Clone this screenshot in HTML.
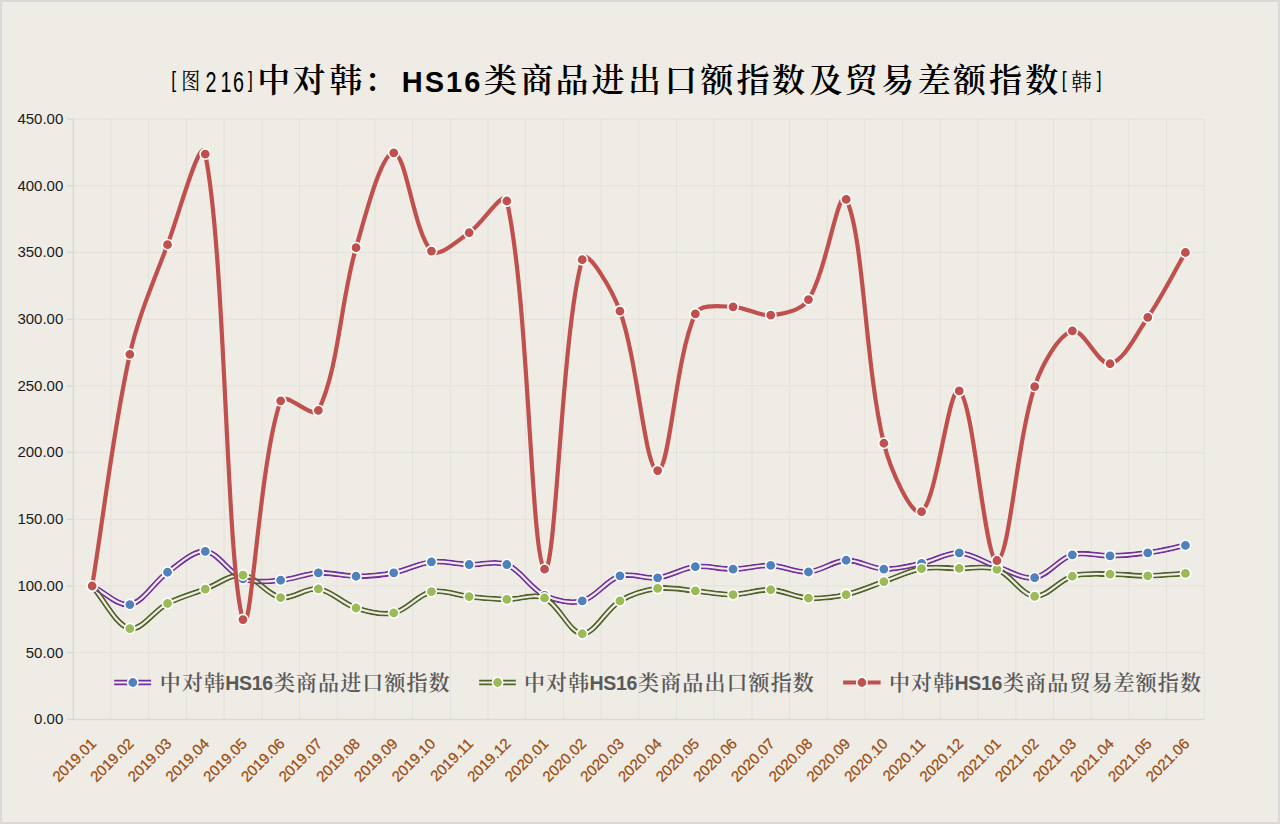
<!DOCTYPE html>
<html><head><meta charset="utf-8"><title>中对韩：HS16类商品进出口额指数及贸易差额指数</title>
<style>html,body{margin:0;padding:0;background:#efece5;}svg{display:block;}</style></head>
<body><svg width="1280" height="824" viewBox="0 0 1280 824"><rect x="0" y="0" width="1280" height="824" fill="#d9d9d9"/><rect x="2" y="2" width="1276" height="820" fill="#efece5"/><path d="M74.05,652.70H1204.30M74.05,586.00H1204.30M74.05,519.30H1204.30M74.05,452.60H1204.30M74.05,385.90H1204.30M74.05,319.20H1204.30M74.05,252.50H1204.30M74.05,185.80H1204.30M74.05,119.10H1204.30M111.00,119.10V718.65M148.70,119.10V718.65M186.40,119.10V718.65M224.10,119.10V718.65M261.80,119.10V718.65M299.50,119.10V718.65M337.20,119.10V718.65M374.90,119.10V718.65M412.60,119.10V718.65M450.30,119.10V718.65M488.00,119.10V718.65M525.70,119.10V718.65M563.40,119.10V718.65M601.10,119.10V718.65M638.80,119.10V718.65M676.50,119.10V718.65M714.20,119.10V718.65M751.90,119.10V718.65M789.60,119.10V718.65M827.30,119.10V718.65M865.00,119.10V718.65M902.70,119.10V718.65M940.40,119.10V718.65M978.10,119.10V718.65M1015.80,119.10V718.65M1053.50,119.10V718.65M1091.20,119.10V718.65M1128.90,119.10V718.65M1166.60,119.10V718.65M1204.30,119.10V718.65" stroke="#e3e1db" stroke-width="1" fill="none"/><path d="M73.30,119.10V719.40M67.00,719.40H1204.30M67.00,652.70H73.30M67.00,586.00H73.30M67.00,519.30H73.30M67.00,452.60H73.30M67.00,385.90H73.30M67.00,319.20H73.30M67.00,252.50H73.30M67.00,185.80H73.30M67.00,119.10H73.30" stroke="#d9d9d9" stroke-width="1.5" fill="none"/><g font-family="'Liberation Sans', sans-serif" font-size="15" fill="#1a1a1a" text-anchor="end"><text x="63.3" y="724.20">0.00</text><text x="63.3" y="657.50">50.00</text><text x="63.3" y="590.80">100.00</text><text x="63.3" y="524.10">150.00</text><text x="63.3" y="457.40">200.00</text><text x="63.3" y="390.70">250.00</text><text x="63.3" y="324.00">300.00</text><text x="63.3" y="257.30">350.00</text><text x="63.3" y="190.60">400.00</text><text x="63.3" y="123.90">450.00</text></g><g font-family="'Liberation Sans', sans-serif" font-size="15" fill="#9c4d12" stroke="#9c4d12" stroke-width="0.25" text-anchor="end"><text transform="translate(97.05,744.50) rotate(-45)">2019.01</text><text transform="translate(134.75,744.50) rotate(-45)">2019.02</text><text transform="translate(172.45,744.50) rotate(-45)">2019.03</text><text transform="translate(210.15,744.50) rotate(-45)">2019.04</text><text transform="translate(247.85,744.50) rotate(-45)">2019.05</text><text transform="translate(285.55,744.50) rotate(-45)">2019.06</text><text transform="translate(323.25,744.50) rotate(-45)">2019.07</text><text transform="translate(360.95,744.50) rotate(-45)">2019.08</text><text transform="translate(398.65,744.50) rotate(-45)">2019.09</text><text transform="translate(436.35,744.50) rotate(-45)">2019.10</text><text transform="translate(474.05,744.50) rotate(-45)">2019.11</text><text transform="translate(511.75,744.50) rotate(-45)">2019.12</text><text transform="translate(549.45,744.50) rotate(-45)">2020.01</text><text transform="translate(587.15,744.50) rotate(-45)">2020.02</text><text transform="translate(624.85,744.50) rotate(-45)">2020.03</text><text transform="translate(662.55,744.50) rotate(-45)">2020.04</text><text transform="translate(700.25,744.50) rotate(-45)">2020.05</text><text transform="translate(737.95,744.50) rotate(-45)">2020.06</text><text transform="translate(775.65,744.50) rotate(-45)">2020.07</text><text transform="translate(813.35,744.50) rotate(-45)">2020.08</text><text transform="translate(851.05,744.50) rotate(-45)">2020.09</text><text transform="translate(888.75,744.50) rotate(-45)">2020.10</text><text transform="translate(926.45,744.50) rotate(-45)">2020.11</text><text transform="translate(964.15,744.50) rotate(-45)">2020.12</text><text transform="translate(1001.85,744.50) rotate(-45)">2021.01</text><text transform="translate(1039.55,744.50) rotate(-45)">2021.02</text><text transform="translate(1077.25,744.50) rotate(-45)">2021.03</text><text transform="translate(1114.95,744.50) rotate(-45)">2021.04</text><text transform="translate(1152.65,744.50) rotate(-45)">2021.05</text><text transform="translate(1190.35,744.50) rotate(-45)">2021.06</text></g><mask id="m1" maskUnits="userSpaceOnUse" x="0" y="0" width="1280" height="824"><path d="M92.15,586.00 C104.72,592.18 118.33,606.64 129.85,604.54 C143.46,602.06 154.10,581.75 167.55,572.26 C179.24,564.01 193.18,550.27 205.25,551.32 C218.31,552.45 229.05,573.46 242.95,578.80 C254.19,583.11 268.20,581.26 280.65,580.26 C293.33,579.25 305.69,573.47 318.35,572.79 C330.82,572.13 343.48,576.26 356.05,576.26 C368.62,576.26 381.41,575.15 393.75,572.79 C406.54,570.35 418.65,563.26 431.45,561.85 C443.78,560.50 456.57,564.08 469.15,564.52 C481.70,564.97 495.88,560.04 506.85,564.52 C521.02,570.31 530.45,588.53 544.55,595.34 C555.59,600.67 570.76,603.91 582.25,600.94 C595.90,597.42 606.24,580.06 619.95,575.86 C631.38,572.36 645.34,579.37 657.65,577.86 C670.47,576.30 682.53,568.13 695.35,566.66 C707.66,565.24 720.50,569.39 733.05,569.19 C745.63,568.99 758.25,564.99 770.75,565.46 C783.38,565.93 796.08,572.85 808.45,571.99 C821.21,571.11 833.46,560.75 846.15,560.25 C858.59,559.77 871.19,568.54 883.85,569.06 C896.32,569.57 909.14,565.98 921.55,563.32 C934.28,560.60 946.84,552.37 959.25,552.92 C971.98,553.48 984.25,562.48 996.95,566.66 C1009.38,570.75 1022.81,579.59 1034.65,577.73 C1047.95,575.64 1058.80,558.72 1072.35,554.78 C1083.93,551.42 1097.50,556.18 1110.05,555.85 C1122.63,555.52 1135.28,554.50 1147.75,552.78 C1160.41,551.04 1172.88,547.89 1185.45,545.45" fill="none" stroke="#fff" stroke-width="5.8" stroke-linejoin="round"/><path d="M92.15,586.00 C104.72,592.18 118.33,606.64 129.85,604.54 C143.46,602.06 154.10,581.75 167.55,572.26 C179.24,564.01 193.18,550.27 205.25,551.32 C218.31,552.45 229.05,573.46 242.95,578.80 C254.19,583.11 268.20,581.26 280.65,580.26 C293.33,579.25 305.69,573.47 318.35,572.79 C330.82,572.13 343.48,576.26 356.05,576.26 C368.62,576.26 381.41,575.15 393.75,572.79 C406.54,570.35 418.65,563.26 431.45,561.85 C443.78,560.50 456.57,564.08 469.15,564.52 C481.70,564.97 495.88,560.04 506.85,564.52 C521.02,570.31 530.45,588.53 544.55,595.34 C555.59,600.67 570.76,603.91 582.25,600.94 C595.90,597.42 606.24,580.06 619.95,575.86 C631.38,572.36 645.34,579.37 657.65,577.86 C670.47,576.30 682.53,568.13 695.35,566.66 C707.66,565.24 720.50,569.39 733.05,569.19 C745.63,568.99 758.25,564.99 770.75,565.46 C783.38,565.93 796.08,572.85 808.45,571.99 C821.21,571.11 833.46,560.75 846.15,560.25 C858.59,559.77 871.19,568.54 883.85,569.06 C896.32,569.57 909.14,565.98 921.55,563.32 C934.28,560.60 946.84,552.37 959.25,552.92 C971.98,553.48 984.25,562.48 996.95,566.66 C1009.38,570.75 1022.81,579.59 1034.65,577.73 C1047.95,575.64 1058.80,558.72 1072.35,554.78 C1083.93,551.42 1097.50,556.18 1110.05,555.85 C1122.63,555.52 1135.28,554.50 1147.75,552.78 C1160.41,551.04 1172.88,547.89 1185.45,545.45" fill="none" stroke="#000" stroke-width="2.2" stroke-linejoin="round"/></mask><path d="M92.15,586.00 C104.72,592.18 118.33,606.64 129.85,604.54 C143.46,602.06 154.10,581.75 167.55,572.26 C179.24,564.01 193.18,550.27 205.25,551.32 C218.31,552.45 229.05,573.46 242.95,578.80 C254.19,583.11 268.20,581.26 280.65,580.26 C293.33,579.25 305.69,573.47 318.35,572.79 C330.82,572.13 343.48,576.26 356.05,576.26 C368.62,576.26 381.41,575.15 393.75,572.79 C406.54,570.35 418.65,563.26 431.45,561.85 C443.78,560.50 456.57,564.08 469.15,564.52 C481.70,564.97 495.88,560.04 506.85,564.52 C521.02,570.31 530.45,588.53 544.55,595.34 C555.59,600.67 570.76,603.91 582.25,600.94 C595.90,597.42 606.24,580.06 619.95,575.86 C631.38,572.36 645.34,579.37 657.65,577.86 C670.47,576.30 682.53,568.13 695.35,566.66 C707.66,565.24 720.50,569.39 733.05,569.19 C745.63,568.99 758.25,564.99 770.75,565.46 C783.38,565.93 796.08,572.85 808.45,571.99 C821.21,571.11 833.46,560.75 846.15,560.25 C858.59,559.77 871.19,568.54 883.85,569.06 C896.32,569.57 909.14,565.98 921.55,563.32 C934.28,560.60 946.84,552.37 959.25,552.92 C971.98,553.48 984.25,562.48 996.95,566.66 C1009.38,570.75 1022.81,579.59 1034.65,577.73 C1047.95,575.64 1058.80,558.72 1072.35,554.78 C1083.93,551.42 1097.50,556.18 1110.05,555.85 C1122.63,555.52 1135.28,554.50 1147.75,552.78 C1160.41,551.04 1172.88,547.89 1185.45,545.45" fill="none" stroke="#7030a0" stroke-width="5.8" stroke-linejoin="round" mask="url(#m1)"/><g fill="#4f81bd" stroke="#fff" stroke-width="1.6"><circle cx="92.15" cy="586.00" r="5.2"/><circle cx="129.85" cy="604.54" r="5.2"/><circle cx="167.55" cy="572.26" r="5.2"/><circle cx="205.25" cy="551.32" r="5.2"/><circle cx="242.95" cy="578.80" r="5.2"/><circle cx="280.65" cy="580.26" r="5.2"/><circle cx="318.35" cy="572.79" r="5.2"/><circle cx="356.05" cy="576.26" r="5.2"/><circle cx="393.75" cy="572.79" r="5.2"/><circle cx="431.45" cy="561.85" r="5.2"/><circle cx="469.15" cy="564.52" r="5.2"/><circle cx="506.85" cy="564.52" r="5.2"/><circle cx="544.55" cy="595.34" r="5.2"/><circle cx="582.25" cy="600.94" r="5.2"/><circle cx="619.95" cy="575.86" r="5.2"/><circle cx="657.65" cy="577.86" r="5.2"/><circle cx="695.35" cy="566.66" r="5.2"/><circle cx="733.05" cy="569.19" r="5.2"/><circle cx="770.75" cy="565.46" r="5.2"/><circle cx="808.45" cy="571.99" r="5.2"/><circle cx="846.15" cy="560.25" r="5.2"/><circle cx="883.85" cy="569.06" r="5.2"/><circle cx="921.55" cy="563.32" r="5.2"/><circle cx="959.25" cy="552.92" r="5.2"/><circle cx="996.95" cy="566.66" r="5.2"/><circle cx="1034.65" cy="577.73" r="5.2"/><circle cx="1072.35" cy="554.78" r="5.2"/><circle cx="1110.05" cy="555.85" r="5.2"/><circle cx="1147.75" cy="552.78" r="5.2"/><circle cx="1185.45" cy="545.45" r="5.2"/></g><mask id="m2" maskUnits="userSpaceOnUse" x="0" y="0" width="1280" height="824"><path d="M92.15,586.00 C104.72,600.18 115.86,625.31 129.85,628.55 C140.99,631.14 154.26,610.43 167.55,603.48 C179.39,597.27 192.66,593.81 205.25,589.07 C217.79,584.34 230.94,573.70 242.95,575.06 C256.07,576.55 267.29,595.17 280.65,597.61 C292.42,599.75 306.34,587.14 318.35,588.80 C331.47,590.61 342.81,603.77 356.05,608.01 C367.95,611.82 382.00,615.50 393.75,612.95 C407.14,610.03 418.06,594.52 431.45,591.60 C443.20,589.05 456.55,595.25 469.15,596.54 C481.68,597.82 494.27,599.10 506.85,599.34 C519.40,599.58 533.98,593.18 544.55,598.01 C559.11,604.65 569.44,633.26 582.25,633.76 C594.57,634.24 605.95,609.36 619.95,600.94 C631.08,594.25 644.77,590.13 657.65,588.40 C669.90,586.75 682.80,589.76 695.35,590.80 C707.94,591.85 720.50,594.85 733.05,594.67 C745.64,594.49 758.28,589.16 770.75,589.74 C783.42,590.32 795.76,597.33 808.45,598.14 C820.89,598.93 833.90,597.22 846.15,594.54 C859.04,591.71 871.28,585.91 883.85,581.60 C896.42,577.28 908.63,570.92 921.55,568.66 C933.77,566.52 946.69,568.28 959.25,568.39 C971.82,568.50 985.67,565.16 996.95,569.33 C1010.81,574.45 1021.57,595.07 1034.65,596.27 C1046.70,597.38 1059.01,580.18 1072.35,576.26 C1084.15,572.80 1097.48,574.19 1110.05,574.13 C1122.61,574.06 1135.19,575.97 1147.75,575.86 C1160.32,575.75 1172.88,574.26 1185.45,573.46" fill="none" stroke="#fff" stroke-width="5.8" stroke-linejoin="round"/><path d="M92.15,586.00 C104.72,600.18 115.86,625.31 129.85,628.55 C140.99,631.14 154.26,610.43 167.55,603.48 C179.39,597.27 192.66,593.81 205.25,589.07 C217.79,584.34 230.94,573.70 242.95,575.06 C256.07,576.55 267.29,595.17 280.65,597.61 C292.42,599.75 306.34,587.14 318.35,588.80 C331.47,590.61 342.81,603.77 356.05,608.01 C367.95,611.82 382.00,615.50 393.75,612.95 C407.14,610.03 418.06,594.52 431.45,591.60 C443.20,589.05 456.55,595.25 469.15,596.54 C481.68,597.82 494.27,599.10 506.85,599.34 C519.40,599.58 533.98,593.18 544.55,598.01 C559.11,604.65 569.44,633.26 582.25,633.76 C594.57,634.24 605.95,609.36 619.95,600.94 C631.08,594.25 644.77,590.13 657.65,588.40 C669.90,586.75 682.80,589.76 695.35,590.80 C707.94,591.85 720.50,594.85 733.05,594.67 C745.64,594.49 758.28,589.16 770.75,589.74 C783.42,590.32 795.76,597.33 808.45,598.14 C820.89,598.93 833.90,597.22 846.15,594.54 C859.04,591.71 871.28,585.91 883.85,581.60 C896.42,577.28 908.63,570.92 921.55,568.66 C933.77,566.52 946.69,568.28 959.25,568.39 C971.82,568.50 985.67,565.16 996.95,569.33 C1010.81,574.45 1021.57,595.07 1034.65,596.27 C1046.70,597.38 1059.01,580.18 1072.35,576.26 C1084.15,572.80 1097.48,574.19 1110.05,574.13 C1122.61,574.06 1135.19,575.97 1147.75,575.86 C1160.32,575.75 1172.88,574.26 1185.45,573.46" fill="none" stroke="#000" stroke-width="2.2" stroke-linejoin="round"/></mask><path d="M92.15,586.00 C104.72,600.18 115.86,625.31 129.85,628.55 C140.99,631.14 154.26,610.43 167.55,603.48 C179.39,597.27 192.66,593.81 205.25,589.07 C217.79,584.34 230.94,573.70 242.95,575.06 C256.07,576.55 267.29,595.17 280.65,597.61 C292.42,599.75 306.34,587.14 318.35,588.80 C331.47,590.61 342.81,603.77 356.05,608.01 C367.95,611.82 382.00,615.50 393.75,612.95 C407.14,610.03 418.06,594.52 431.45,591.60 C443.20,589.05 456.55,595.25 469.15,596.54 C481.68,597.82 494.27,599.10 506.85,599.34 C519.40,599.58 533.98,593.18 544.55,598.01 C559.11,604.65 569.44,633.26 582.25,633.76 C594.57,634.24 605.95,609.36 619.95,600.94 C631.08,594.25 644.77,590.13 657.65,588.40 C669.90,586.75 682.80,589.76 695.35,590.80 C707.94,591.85 720.50,594.85 733.05,594.67 C745.64,594.49 758.28,589.16 770.75,589.74 C783.42,590.32 795.76,597.33 808.45,598.14 C820.89,598.93 833.90,597.22 846.15,594.54 C859.04,591.71 871.28,585.91 883.85,581.60 C896.42,577.28 908.63,570.92 921.55,568.66 C933.77,566.52 946.69,568.28 959.25,568.39 C971.82,568.50 985.67,565.16 996.95,569.33 C1010.81,574.45 1021.57,595.07 1034.65,596.27 C1046.70,597.38 1059.01,580.18 1072.35,576.26 C1084.15,572.80 1097.48,574.19 1110.05,574.13 C1122.61,574.06 1135.19,575.97 1147.75,575.86 C1160.32,575.75 1172.88,574.26 1185.45,573.46" fill="none" stroke="#4f6228" stroke-width="5.8" stroke-linejoin="round" mask="url(#m2)"/><g fill="#9bbb59" stroke="#fff" stroke-width="1.6"><circle cx="92.15" cy="586.00" r="5.2"/><circle cx="129.85" cy="628.55" r="5.2"/><circle cx="167.55" cy="603.48" r="5.2"/><circle cx="205.25" cy="589.07" r="5.2"/><circle cx="242.95" cy="575.06" r="5.2"/><circle cx="280.65" cy="597.61" r="5.2"/><circle cx="318.35" cy="588.80" r="5.2"/><circle cx="356.05" cy="608.01" r="5.2"/><circle cx="393.75" cy="612.95" r="5.2"/><circle cx="431.45" cy="591.60" r="5.2"/><circle cx="469.15" cy="596.54" r="5.2"/><circle cx="506.85" cy="599.34" r="5.2"/><circle cx="544.55" cy="598.01" r="5.2"/><circle cx="582.25" cy="633.76" r="5.2"/><circle cx="619.95" cy="600.94" r="5.2"/><circle cx="657.65" cy="588.40" r="5.2"/><circle cx="695.35" cy="590.80" r="5.2"/><circle cx="733.05" cy="594.67" r="5.2"/><circle cx="770.75" cy="589.74" r="5.2"/><circle cx="808.45" cy="598.14" r="5.2"/><circle cx="846.15" cy="594.54" r="5.2"/><circle cx="883.85" cy="581.60" r="5.2"/><circle cx="921.55" cy="568.66" r="5.2"/><circle cx="959.25" cy="568.39" r="5.2"/><circle cx="996.95" cy="569.33" r="5.2"/><circle cx="1034.65" cy="596.27" r="5.2"/><circle cx="1072.35" cy="576.26" r="5.2"/><circle cx="1110.05" cy="574.13" r="5.2"/><circle cx="1147.75" cy="575.86" r="5.2"/><circle cx="1185.45" cy="573.46" r="5.2"/></g><path d="M92.15,586.00 C104.72,508.76 113.03,430.45 129.85,354.28 C138.16,316.66 153.94,280.78 167.55,244.63 C179.07,214.04 200.89,132.35 205.25,154.05 C226.02,257.35 225.91,563.86 242.95,619.62 C251.05,646.12 259.26,460.17 280.65,400.84 C284.40,390.44 313.60,420.09 318.35,410.45 C338.74,369.04 340.45,301.00 356.05,247.70 C365.58,215.13 381.37,152.30 393.75,152.85 C406.51,153.41 413.48,231.98 431.45,251.03 C438.61,258.62 457.60,240.42 469.15,232.76 C482.74,223.74 503.90,187.83 506.85,201.01 C529.03,299.97 530.91,558.57 544.55,569.19 C556.04,578.14 561.38,331.15 582.25,259.70 C586.51,245.10 612.92,291.39 619.95,311.06 C638.05,361.69 644.98,470.14 657.65,470.61 C670.11,471.07 675.05,357.97 695.35,313.86 C700.18,303.37 720.53,306.57 733.05,306.79 C745.66,307.02 758.53,316.37 770.75,315.20 C783.66,313.96 801.51,310.24 808.45,299.59 C826.65,271.65 838.55,184.92 846.15,199.41 C863.68,232.81 864.76,364.20 883.85,443.26 C889.89,468.30 911.95,518.35 921.55,511.70 C937.09,500.92 948.66,384.11 959.25,390.97 C973.79,400.39 984.54,561.25 996.95,560.52 C1009.67,559.78 1016.40,442.12 1034.65,386.57 C1041.54,365.59 1057.94,335.30 1072.35,330.94 C1083.07,327.70 1098.60,365.80 1110.05,363.76 C1123.73,361.31 1136.62,333.89 1147.75,317.47 C1161.75,296.80 1172.88,274.16 1185.45,252.50" fill="none" stroke="#c0504d" stroke-width="4.2" stroke-linejoin="round"/><g fill="#c0504d" stroke="#fff" stroke-width="1.6"><circle cx="92.15" cy="586.00" r="5.2"/><circle cx="129.85" cy="354.28" r="5.2"/><circle cx="167.55" cy="244.63" r="5.2"/><circle cx="205.25" cy="154.05" r="5.2"/><circle cx="242.95" cy="619.62" r="5.2"/><circle cx="280.65" cy="400.84" r="5.2"/><circle cx="318.35" cy="410.45" r="5.2"/><circle cx="356.05" cy="247.70" r="5.2"/><circle cx="393.75" cy="152.85" r="5.2"/><circle cx="431.45" cy="251.03" r="5.2"/><circle cx="469.15" cy="232.76" r="5.2"/><circle cx="506.85" cy="201.01" r="5.2"/><circle cx="544.55" cy="569.19" r="5.2"/><circle cx="582.25" cy="259.70" r="5.2"/><circle cx="619.95" cy="311.06" r="5.2"/><circle cx="657.65" cy="470.61" r="5.2"/><circle cx="695.35" cy="313.86" r="5.2"/><circle cx="733.05" cy="306.79" r="5.2"/><circle cx="770.75" cy="315.20" r="5.2"/><circle cx="808.45" cy="299.59" r="5.2"/><circle cx="846.15" cy="199.41" r="5.2"/><circle cx="883.85" cy="443.26" r="5.2"/><circle cx="921.55" cy="511.70" r="5.2"/><circle cx="959.25" cy="390.97" r="5.2"/><circle cx="996.95" cy="560.52" r="5.2"/><circle cx="1034.65" cy="386.57" r="5.2"/><circle cx="1072.35" cy="330.94" r="5.2"/><circle cx="1110.05" cy="363.76" r="5.2"/><circle cx="1147.75" cy="317.47" r="5.2"/><circle cx="1185.45" cy="252.50" r="5.2"/></g><mask id="mL1" maskUnits="userSpaceOnUse" x="0" y="0" width="1280" height="824"><path d="M114.1,682.5H151.3" fill="none" stroke="#fff" stroke-width="5.8" stroke-linejoin="round"/><path d="M114.1,682.5H151.3" fill="none" stroke="#000" stroke-width="2.2" stroke-linejoin="round"/></mask><path d="M114.1,682.5H151.3" fill="none" stroke="#7030a0" stroke-width="5.8" stroke-linejoin="round" mask="url(#mL1)"/><circle cx="132.8" cy="682.5" r="5.2" fill="#4f81bd" stroke="#fff" stroke-width="1.6"/><mask id="mL2" maskUnits="userSpaceOnUse" x="0" y="0" width="1280" height="824"><path d="M479.1,682.5H515.9" fill="none" stroke="#fff" stroke-width="5.8" stroke-linejoin="round"/><path d="M479.1,682.5H515.9" fill="none" stroke="#000" stroke-width="2.2" stroke-linejoin="round"/></mask><path d="M479.1,682.5H515.9" fill="none" stroke="#4f6228" stroke-width="5.8" stroke-linejoin="round" mask="url(#mL2)"/><circle cx="497.6" cy="682.5" r="5.2" fill="#9bbb59" stroke="#fff" stroke-width="1.6"/><path d="M843.1,682.5H880.6" stroke="#c0504d" stroke-width="4.2"/><circle cx="861.9" cy="682.5" r="5.2" fill="#c0504d" stroke="#fff" stroke-width="1.6"/><text x="159.8" y="689.8" font-family="'Liberation Serif', 'Noto Serif CJK SC', serif" font-size="21" font-weight="600" letter-spacing="1.1" fill="#595959">中对韩</text><text x="225.3" y="690" font-family="'Liberation Sans', sans-serif" font-weight="bold" font-size="19.5" letter-spacing="-0.3" fill="#595959">HS16</text><text x="273.9" y="689.8" font-family="'Liberation Serif', 'Noto Serif CJK SC', serif" font-size="21" font-weight="600" letter-spacing="1.1" fill="#595959">类商品进口额指数</text><text x="524.0" y="689.8" font-family="'Liberation Serif', 'Noto Serif CJK SC', serif" font-size="21" font-weight="600" letter-spacing="1.1" fill="#595959">中对韩</text><text x="589.5" y="690" font-family="'Liberation Sans', sans-serif" font-weight="bold" font-size="19.5" letter-spacing="-0.3" fill="#595959">HS16</text><text x="638.1" y="689.8" font-family="'Liberation Serif', 'Noto Serif CJK SC', serif" font-size="21" font-weight="600" letter-spacing="1.1" fill="#595959">类商品出口额指数</text><text x="889.0" y="689.8" font-family="'Liberation Serif', 'Noto Serif CJK SC', serif" font-size="21" font-weight="600" letter-spacing="1.1" fill="#595959">中对韩</text><text x="954.5" y="690" font-family="'Liberation Sans', sans-serif" font-weight="bold" font-size="19.5" letter-spacing="-0.3" fill="#595959">HS16</text><text x="1003.1" y="689.8" font-family="'Liberation Serif', 'Noto Serif CJK SC', serif" font-size="21" font-weight="600" letter-spacing="1.1" fill="#595959">类商品贸易差额指数</text><g fill="#000"><text transform="translate(171.20,87.40) scale(0.8,1)" font-family="'Liberation Sans', sans-serif" font-size="21.8" font-weight="400">[</text><text transform="translate(181.24,89.30) scale(0.85,1)" font-family="'Liberation Serif', 'Noto Serif CJK SC', serif" font-size="22.3" font-weight="400">图</text><text transform="translate(205.58,91.90) scale(0.68,1)" font-family="'Liberation Sans', sans-serif" font-size="29" font-weight="400">2</text><text transform="translate(220.38,91.90) scale(0.68,1)" font-family="'Liberation Sans', sans-serif" font-size="29" font-weight="400">1</text><text transform="translate(232.98,91.90) scale(0.68,1)" font-family="'Liberation Sans', sans-serif" font-size="29" font-weight="400">6</text><text transform="translate(248.10,87.40) scale(0.8,1)" font-family="'Liberation Sans', sans-serif" font-size="21.8" font-weight="400">]</text><text x="257.20 292.50 329.50 364.30" y="92.3" font-family="'Liberation Serif', 'Noto Serif CJK SC', serif" font-size="33" font-weight="600">中对韩：</text><text x="484.00 520.40 555.50 591.60 627.90 664.25 700.40 736.60 772.00 809.30 844.70 881.30 917.65 953.00 989.10 1025.15" y="92.3" font-family="'Liberation Serif', 'Noto Serif CJK SC', serif" font-size="33" font-weight="600">类商品进出口额指数及贸易差额指数</text><text x="401.75" y="91.7" font-family="'Liberation Sans', sans-serif" font-weight="bold" font-size="29" letter-spacing="2">HS16</text><text transform="translate(1061.80,87.40) scale(0.8,1)" font-family="'Liberation Sans', sans-serif" font-size="21.8" font-weight="400">[</text><text transform="translate(1071.29,89.70) scale(0.9,1)" font-family="'Liberation Serif', 'Noto Serif CJK SC', serif" font-size="22.9" font-weight="400">韩</text><text transform="translate(1096.70,87.40) scale(0.8,1)" font-family="'Liberation Sans', sans-serif" font-size="21.8" font-weight="400">]</text></g></svg></body></html>
